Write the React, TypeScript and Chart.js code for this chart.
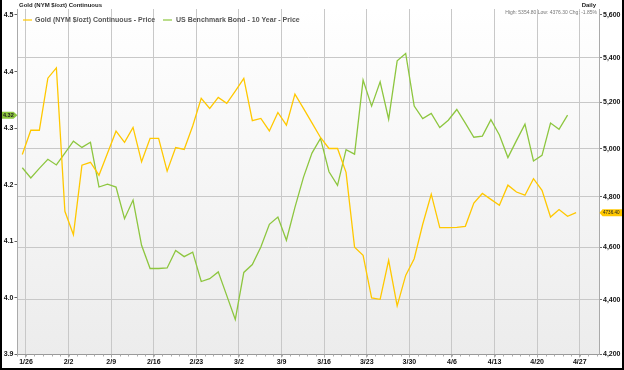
import { useEffect, useRef } from 'react';
import { Chart, registerables } from 'chart.js';

Chart.register(...registerables);

const WEEK_LABELS = ['1/26', '2/2', '2/9', '2/16', '2/23', '3/2', '3/9', '3/16', '3/23', '3/30', '4/6', '4/13', '4/20', '4/27'];

const GOLD_PRICE = [
  4975.7, 5079, 5079, 5308, 5354.8, 4742, 4649, 4931, 4943, 4889,
  4981, 5075, 5027, 5091, 4945, 5044, 5044, 4906, 5005, 4997,
  5097, 5218, 5174, 5222, 5196, 5250, 5307, 5120, 5130, 5076,
  5156, 5101, 5237, 5174, 5111, 5048, 5001, 5001, 4901, 4600,
  4568, 4406, 4401, 4549, 4376.3, 4491, 4555, 4690, 4811, 4677,
  4677, 4678, 4682, 4775, 4814, 4790, 4766, 4848, 4820, 4807,
  4875, 4827, 4719, 4749, 4722, 4736.4,
];

const BOND_YIELD = [
  4.230, 4.212, 4.229, 4.245, 4.235, 4.256, 4.277, 4.266, 4.275, 4.196,
  4.201, 4.196, 4.140, 4.173, 4.093, 4.052, 4.052, 4.053, 4.084, 4.073,
  4.081, 4.029, 4.034, 4.046, 4.004, 3.962, 4.045, 4.059, 4.090, 4.130,
  4.143, 4.102, 4.160, 4.213, 4.256, 4.282, 4.223, 4.199, 4.262, 4.254,
  4.385, 4.339, 4.382, 4.316, 4.419, 4.432, 4.339, 4.317, 4.326, 4.301,
  4.314, 4.333, 4.309, 4.284, 4.286, 4.315, 4.288, 4.248, 4.278, 4.307,
  4.242, 4.252, 4.309, 4.298, 4.323,
];

const LEFT_TICKS = [3.9, 4.0, 4.1, 4.2, 4.3, 4.4, 4.5];
const RIGHT_TICKS = [4200, 4400, 4600, 4800, 5000, 5200, 5400, 5600];

const TITLE = 'Gold (NYM $/ozt) Continuous';
const GOLD_LABEL = 'Gold (NYM $/ozt) Continuous - Price';
const BOND_LABEL = 'US Benchmark Bond - 10 Year - Price';
const PERIOD = 'Daily';
const STATS = 'High: 5354.80 Low: 4376.30 Chg: -1.85%';

const GOLD_COLOR = '#ffc800';
const BOND_COLOR = '#8dc63f';
const FONT = '"Liberation Sans", Arial, sans-serif';

const decor = {
  id: 'decor',
  beforeDraw(chart: any) {
    const { ctx, chartArea: a } = chart;
    ctx.save();
    ctx.fillStyle = '#ffffff';
    ctx.fillRect(0, 0, chart.width, chart.height);
    const g = ctx.createLinearGradient(0, a.top, 0, a.bottom);
    g.addColorStop(0, '#ffffff');
    g.addColorStop(1, '#ececec');
    ctx.fillStyle = g;
    ctx.fillRect(a.left, a.top, a.right - a.left, a.bottom - a.top);
    ctx.restore();
  },
  afterDraw(chart: any) {
    const { ctx, chartArea: a } = chart;
    const xs = chart.scales.x;
    const yl = chart.scales.yL;
    const yr = chart.scales.yR;
    ctx.save();
    // minor daily ticks on x axis
    ctx.strokeStyle = '#aaaaaa';
    ctx.lineWidth = 1;
    for (let i = -1; i <= 67; i++) {
      const px = Math.round(xs.getPixelForValue(i + 0.43)) + 0.5;
      if (px < a.left || px > a.right) continue;
      ctx.beginPath();
      ctx.moveTo(px, a.bottom);
      ctx.lineTo(px, a.bottom + 2);
      ctx.stroke();
    }
    // header texts
    ctx.fillStyle = '#222';
    ctx.textBaseline = 'middle';
    ctx.font = `bold 6px ${FONT}`;
    ctx.textAlign = 'left';
    ctx.fillText(TITLE, 19, 5);
    ctx.textAlign = 'right';
    ctx.fillText(PERIOD, 596, 5);
    ctx.fillStyle = '#777';
    ctx.font = `5px ${FONT}`;
    ctx.fillText(STATS, 597, 12.5);
    // legend
    ctx.textAlign = 'left';
    ctx.font = `bold 7px ${FONT}`;
    ctx.lineWidth = 1.2;
    ctx.strokeStyle = GOLD_COLOR;
    ctx.beginPath();
    ctx.moveTo(23, 20);
    ctx.lineTo(32, 20);
    ctx.stroke();
    ctx.fillStyle = '#555';
    ctx.fillText(GOLD_LABEL, 35, 20.5);
    ctx.strokeStyle = BOND_COLOR;
    ctx.beginPath();
    ctx.moveTo(163, 20);
    ctx.lineTo(172, 20);
    ctx.stroke();
    ctx.fillText(BOND_LABEL, 176, 20.5);
    // left flag (last bond yield)
    const lastB = BOND_YIELD[BOND_YIELD.length - 1];
    const yb = yl.getPixelForValue(lastB);
    ctx.fillStyle = BOND_COLOR;
    ctx.beginPath();
    ctx.moveTo(1, yb - 3.5);
    ctx.lineTo(13.5, yb - 3.5);
    ctx.lineTo(17.5, yb);
    ctx.lineTo(13.5, yb + 3.5);
    ctx.lineTo(1, yb + 3.5);
    ctx.closePath();
    ctx.fill();
    ctx.fillStyle = '#222';
    ctx.font = `bold 5.5px ${FONT}`;
    ctx.fillText(lastB.toFixed(2), 3, yb + 0.5);
    // right flag (last gold price)
    const lastG = GOLD_PRICE[GOLD_PRICE.length - 1];
    const yg = yr.getPixelForValue(lastG);
    ctx.fillStyle = GOLD_COLOR;
    ctx.beginPath();
    ctx.moveTo(599.5, yg);
    ctx.lineTo(602.5, yg - 3.5);
    ctx.lineTo(622, yg - 3.5);
    ctx.lineTo(622, yg + 3.5);
    ctx.lineTo(602.5, yg + 3.5);
    ctx.closePath();
    ctx.fill();
    ctx.fillStyle = '#222';
    ctx.font = `4.6px ${FONT}`;
    ctx.fillText(lastG.toFixed(2), 603, yg + 0.5);
    // frame
    ctx.fillStyle = '#000';
    ctx.fillRect(0, 0, 2, chart.height);
    ctx.fillRect(chart.width - 2, 0, 2, chart.height);
    ctx.fillRect(0, chart.height - 2, chart.width, 2);
    ctx.restore();
  },
};

export default function App() {
  const ref = useRef<HTMLCanvasElement | null>(null);

  useEffect(() => {
    document.body.style.margin = '0';
    const canvas = ref.current;
    if (!canvas) return;
    const tickFont = { family: FONT, size: 7, weight: 'bold' as const };
    const chart = new Chart(canvas, {
      type: 'line',
      data: {
        datasets: [
          {
            label: GOLD_LABEL,
            data: GOLD_PRICE.map((v, i) => ({ x: i, y: v })),
            yAxisID: 'yR',
            borderColor: GOLD_COLOR,
            borderWidth: 1.3,
            pointRadius: 0,
            tension: 0,
          },
          {
            label: BOND_LABEL,
            data: BOND_YIELD.map((v, i) => ({ x: i, y: v })),
            yAxisID: 'yL',
            borderColor: BOND_COLOR,
            borderWidth: 1.3,
            pointRadius: 0,
            tension: 0,
          },
        ],
      },
      options: {
        responsive: false,
        devicePixelRatio: 1,
        animation: false,
        layout: { padding: { top: 9, left: 0, right: 0, bottom: 0 } },
        plugins: { legend: { display: false }, tooltip: { enabled: false } },
        scales: {
          x: {
            type: 'linear',
            min: -0.563,
            max: 67.69,
            afterBuildTicks: (s: any) => {
              s.ticks = WEEK_LABELS.map((_, k) => ({ value: 0.43 + 5 * k }));
            },
            afterFit: (s: any) => {
              s.height = 15.5;
            },
            ticks: {
              autoSkip: false,
              maxRotation: 0,
              padding: 0,
              color: '#111',
              font: tickFont,
              callback: (_v: any, idx: number) => WEEK_LABELS[idx],
            },
            grid: { color: '#c8c8c8', lineWidth: 1, tickLength: 3, tickColor: '#aaa' },
            border: { display: true, color: '#999' },
          },
          yL: {
            type: 'linear',
            position: 'left',
            min: 3.9,
            max: 4.5106,
            afterBuildTicks: (s: any) => {
              s.ticks = LEFT_TICKS.map((v) => ({ value: v }));
            },
            afterFit: (s: any) => {
              s.width = 17.5;
            },
            ticks: {
              padding: 1,
              color: '#111',
              font: tickFont,
              callback: (v: any) => Number(v).toFixed(1),
            },
            grid: { drawOnChartArea: false, tickLength: 3, tickColor: '#666' },
            border: { display: true, color: '#aaa' },
          },
          yR: {
            type: 'logarithmic',
            position: 'right',
            min: 4200,
            max: 5628.5,
            afterBuildTicks: (s: any) => {
              s.ticks = RIGHT_TICKS.map((v) => ({ value: v }));
            },
            afterFit: (s: any) => {
              s.width = 25;
            },
            ticks: {
              padding: 1,
              color: '#111',
              font: tickFont,
              callback: (v: any) => Number(v).toLocaleString('en-US'),
            },
            grid: {
              drawOnChartArea: true,
              color: (c: any) => (c.tick && c.tick.value === 5600 ? 'rgba(0,0,0,0)' : '#c8c8c8'),
              lineWidth: 1,
              tickLength: 3,
              tickColor: '#666',
            },
            border: { display: true, color: '#aaa' },
          },
        },
      },
      plugins: [decor],
    });
    return () => chart.destroy();
  }, []);

  return (
    <div style={{ position: 'absolute', left: 0, top: 0, width: 624, height: 370 }}>
      <canvas ref={ref} width={624} height={370} style={{ width: 624, height: 370, display: 'block' }} />
    </div>
  );
}
